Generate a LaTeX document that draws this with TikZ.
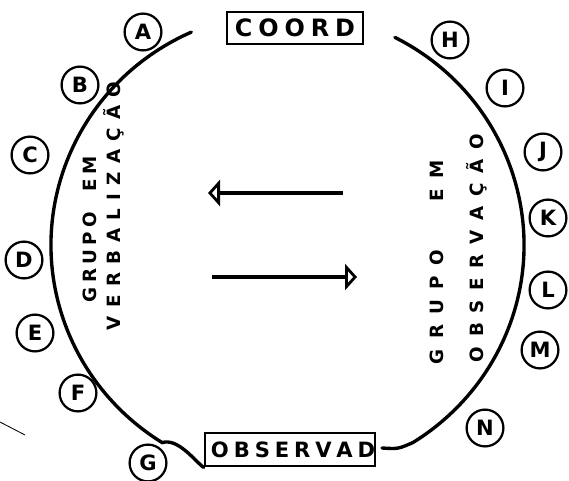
\documentclass[tikz,border=0pt]{standalone}
\usepackage{fontspec}
\setmainfont{DejaVu Sans}
\usetikzlibrary{arrows.meta}

\begin{document}
\begin{tikzpicture}[
    x=0.025cm, y=0.025cm,
    rim/.style={line width=2.4pt, line cap=round},
    member/.style={circle, draw, line width=1.6pt, minimum size=0.92cm, inner sep=0pt,
      font=\fontsize{15}{15}\selectfont\bfseries},
    role/.style={draw, line width=2pt, inner sep=0pt, minimum height=0.8cm},
    grp/.style={rotate=90, inner sep=0pt, font=\fontsize{13}{13}\selectfont\bfseries},
    flow/.style={line width=2.4pt, -{Triangle[open, length=3mm, width=6.5mm, line width=2pt]}}
  ]
    \useasboundingbox (0,0) rectangle (569,480);
    % boxes top and bottom
    \node[role, minimum width=3.4cm, font=\fontsize{17}{17}\selectfont\bfseries] (coord) at (295,452)
      {\makebox[3.0cm][s]{C O O R D}};
    \node[role, minimum width=4.25cm, minimum height=0.825cm, font=\fontsize{15}{15}\selectfont\bfseries] (obs) at (290,30.5)
      {\makebox[3.95cm][s]{O B S E R V A D}};
    % the circle, open at top and bottom
    \coordinate (ctr) at (287.5,235);
    \coordinate (rbot) at (382,32);
    \draw[rim] (ctr) ++(114:236.5 and 233) arc[start angle=114, end angle=238, x radius=236.5, y radius=233]
      .. controls (178,42) and (194,20) .. (obs.south west);
    \draw[rim] (ctr) ++(63:236.5 and 233) arc[start angle=63, end angle=-58, x radius=236.5, y radius=233]
      .. controls (398,31) .. (rbot);
    % members
    \node[member] (a) at (143,448) {A};
    \node[member] (b) at (80,395) {B};
    \node[member] (c) at (30,325) {C};
    \node[member] (d) at (24,220) {D};
    \node[member] (e) at (35,147) {E};
    \node[member] (f) at (78,87) {F};
    \node[member] (g) at (148,17) {G};
    \node[member] (h) at (450,440) {H};
    \node[member] (i) at (505,392) {I};
    \node[member] (j) at (543,328) {J};
    \node[member] (k) at (548,262) {K};
    \node[member] (l) at (548,190) {L};
    \node[member] (m) at (540,130) {M};
    \node[member] (n) at (485,52) {N};
    % group labels
    \node[grp] (gv1) at (90,250) {\makebox[3.6cm][s]{G R U P O \hspace{0.3cm} E M}};
    \node[grp] (gv2) at (114,274) {\makebox[6.2cm][s]{V E R B A L I Z A Ç Ã O}};
    \node[grp] (go1) at (437,218) {\makebox[5.1cm][s]{G R U P O \hspace{0.7cm} E M}};
    \node[grp] (go2) at (477,232) {\makebox[5.7cm][s]{O B S E R V A Ç Ã O}};
    % arrows
    \coordinate (lf) at (343,287);
    \coordinate (lt) at (208,287);
    \coordinate (rf) at (212,203);
    \coordinate (rt) at (357,203);
    \draw[flow] (lf) -- (lt);
    \draw[flow] (rf) -- (rt);
    \coordinate (s1) at (0,58);
    \coordinate (s2) at (25,45);
    \draw[line width=0.6pt] (s1) -- (s2);
\end{tikzpicture}
\end{document}
